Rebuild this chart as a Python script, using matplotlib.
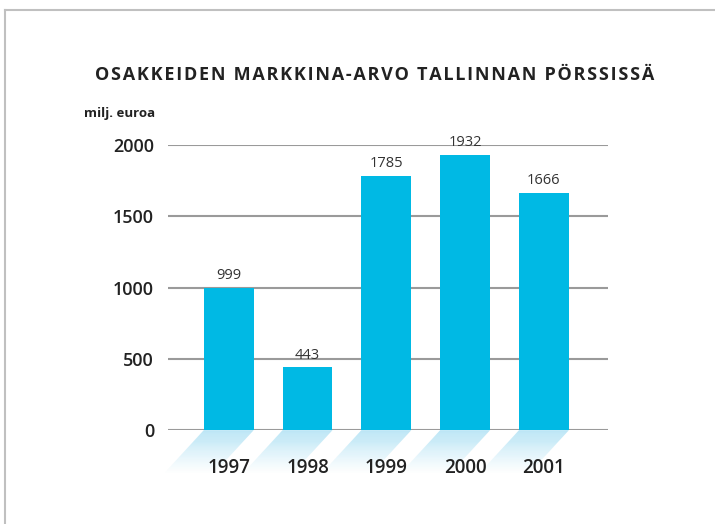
import numpy as np
import matplotlib.pyplot as plt
from matplotlib.patches import Polygon

years = ['1997', '1998', '1999', '2000', '2001']
values = [999, 443, 1785, 1932, 1666]
yticks = [0, 500, 1000, 1500, 2000]

bar_color = '#00b9e4'
text_color = '#222222'
plt.rcParams['font.family'] = ['Open Sans', 'DejaVu Sans']

fig = plt.figure(figsize=(7.15, 5.24), dpi=100)
ax = fig.add_axes([0.235, 0.179, 0.615, 0.5443])

x = np.arange(len(years))
width = 0.633
ax.bar(x, values, width=width, color=bar_color, zorder=3)

ax.set_xlim(-0.77, 4.81)
ax.set_ylim(0, 2000)
for t in yticks:
    ax.axhline(t, color='#9a9a9a', lw=1.5, zorder=2)

# value labels
for xi, v in zip(x, values):
    ax.text(xi, v + 30, str(v), ha='center', va='bottom', fontsize=10.5,
            color='#333333')

# fading shadows under the bars
depth = 300      # data units below zero
shift = 0.5      # slant to the left
n = 40
for xi in x:
    for k in range(n):
        y0 = -depth * k / n
        y1 = -depth * (k + 1) / n
        s0 = shift * k / n
        s1 = shift * (k + 1) / n
        alpha = 0.5 * (1 - k / n) ** 1.2
        poly = Polygon([(xi - width / 2 - s0, y0), (xi + width / 2 - s0, y0),
                        (xi + width / 2 - s1, y1), (xi - width / 2 - s1, y1)],
                       closed=True, facecolor='#6cc9ec', edgecolor='none',
                       alpha=alpha, clip_on=False, zorder=1)
        ax.add_patch(poly)

ax.set_yticks(yticks)
ax.set_yticklabels([str(t) for t in yticks], fontsize=13, color=text_color,
                   fontweight='semibold')
ax.set_xticks(x)
ax.set_xticklabels(years, fontsize=13.5, color=text_color, fontweight='semibold')
ax.tick_params(axis='y', length=0, pad=10)
ax.tick_params(axis='x', length=0, pad=20)
for s in ax.spines.values():
    s.set_visible(False)

title = 'OSAKKEIDEN MARKKINA-ARVO TALLINNAN PÖRSSISSÄ'
spaced = '\u200a'.join(title)
fig.text(0.524, 0.857, spaced, ha='center', va='center', fontsize=13,
         fontweight='bold', color=text_color)
fig.text(0.117, 0.783, 'milj. euroa', ha='left', va='center', fontsize=9.5,
         fontweight='bold', color=text_color)

# frame lines at top and left
fig.add_artist(plt.Line2D([5 / 715, 1], [1 - 10 / 524, 1 - 10 / 524],
                          color='#c0c0c0', lw=1.5))
fig.add_artist(plt.Line2D([5 / 715, 5 / 715], [0, 1 - 10 / 524],
                          color='#c0c0c0', lw=1.5))

fig.savefig('out.png', dpi=100)
